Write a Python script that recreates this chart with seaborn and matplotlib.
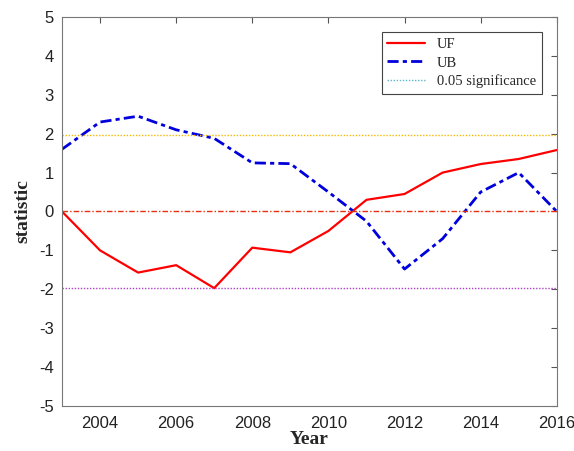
import matplotlib
matplotlib.use("Agg")
import matplotlib.pyplot as plt
from matplotlib.lines import Line2D
import seaborn as sns
import pandas as pd

years = [2003, 2004, 2005, 2006, 2007, 2008, 2009, 2010, 2011, 2012, 2013, 2014, 2015, 2016]
uf = [0.0, -1.0, -1.57, -1.38, -1.97, -0.93, -1.05, -0.5, 0.3, 0.45, 1.0, 1.22, 1.35, 1.58]
ub = [1.6, 2.3, 2.45, 2.1, 1.88, 1.25, 1.23, 0.5, -0.25, -1.48, -0.7, 0.5, 1.0, 0.0]
crit = 1.96
x_ticks = [2004, 2006, 2008, 2010, 2012, 2014, 2016]
y_ticks = [-5, -4, -3, -2, -1, 0, 1, 2, 3, 4, 5]

sns.set_theme(style="white")
plt.rcParams["font.family"] = ["Liberation Sans", "DejaVu Sans"]
plt.rcParams["axes.unicode_minus"] = False

df = pd.DataFrame({"Year": years, "UF": uf, "UB": ub})

fig = plt.figure(figsize=(5.74, 4.51), dpi=100)
ax = fig.add_axes([0.108, 0.0998, 0.862, 0.8625])

sns.lineplot(data=df, x="Year", y="UF", ax=ax, color="#ff0000", lw=1.6)
sns.lineplot(data=df, x="Year", y="UB", ax=ax, color="#0000dd", lw=2.0,
             linestyle=(0, (4, 1.5, 1.5, 1.5)))

ax.axhline(crit, color="#f5b800", lw=1.0, linestyle=(0, (1, 1.2)))
ax.axhline(0, color="#e83010", lw=1.0, linestyle=(0, (4, 1.5, 1, 1.5)))
ax.axhline(-crit, color="#b040c8", lw=1.0, linestyle=(0, (1, 1.2)))

ax.set_xlim(2003, 2016)
ax.set_ylim(-5, 5)
ax.set_xticks(x_ticks)
ax.set_yticks(y_ticks)
ax.tick_params(direction="in", length=4, width=0.8, color="#555555",
               labelsize=12, top=True, right=True, labelcolor="#222222")
ax.tick_params(axis="x", pad=7)
ax.tick_params(axis="y", pad=6)
for s in ax.spines.values():
    s.set_color("#777777")
    s.set_linewidth(0.8)

serif = {"family": ["Liberation Serif", "DejaVu Serif"], "weight": "bold", "size": 14}
ax.set_xlabel("Year", fontdict=serif, labelpad=0)
ax.set_ylabel("statistic", fontdict=serif, labelpad=5)

handles = [
    Line2D([], [], color="#ff0000", lw=1.6),
    Line2D([], [], color="#0000dd", lw=2.0, linestyle=(0, (4, 1.5, 1.5, 1.5))),
    Line2D([], [], color="#5ab8c8", lw=1.0, linestyle=(0, (1, 1.2))),
]
leg = ax.legend(handles, ["UF", "UB", "0.05 significance"], loc="upper right",
                bbox_to_anchor=(0.970, 0.961), borderaxespad=0, fancybox=False,
                framealpha=1, edgecolor="#444444",
                prop={"family": ["Liberation Serif"], "size": 10.5},
                handlelength=2.6, labelspacing=0.35, borderpad=0.4)
leg.get_frame().set_linewidth(0.8)

fig.savefig("out.png", dpi=100)
